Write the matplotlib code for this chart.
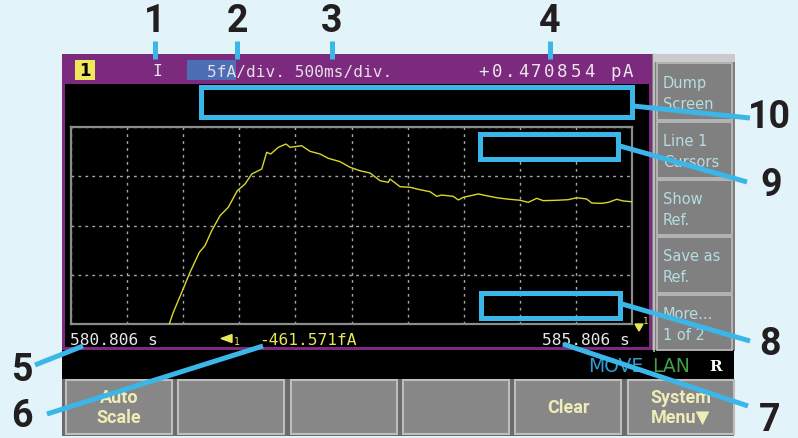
import matplotlib.pyplot as plt
from matplotlib.patches import Rectangle, Polygon
import numpy as np

# trace (time in s, current in fA)
time_s = [581.682, 581.718, 581.793, 581.867, 581.950, 582.000, 582.060, 582.134,
          582.208, 582.288, 582.357, 582.417, 582.506, 582.550, 582.586, 582.654,
          582.722, 582.758, 582.862, 582.936, 583.025, 583.099, 583.204, 583.293,
          583.382, 583.471, 583.560, 583.634, 583.649, 583.738, 583.827, 583.917,
          584.006, 584.065, 584.110, 584.213, 584.258, 584.303, 584.436, 584.511,
          584.600, 584.689, 584.808, 584.882, 584.957, 585.015, 585.135, 585.238,
          585.313, 585.402, 585.447, 585.536, 585.595, 585.670, 585.728, 585.806]
current_fA = [-461.57, -460.38, -458.35, -456.32, -454.29, -453.62, -452.10, -450.58,
              -449.72, -448.04, -447.36, -446.34, -445.84, -444.14, -444.31, -443.63,
              -443.30, -443.63, -443.47, -444.04, -444.31, -444.75, -445.09, -445.66,
              -446.01, -446.24, -447.02, -447.19, -446.85, -447.63, -447.69, -447.94,
              -448.14, -448.61, -448.48, -448.61, -448.98, -448.71, -448.37, -448.55,
              -448.75, -448.88, -449.01, -449.22, -448.81, -449.05, -449.01, -448.95,
              -448.75, -448.88, -449.29, -449.32, -449.22, -448.91, -449.08, -449.16]

t_start = 580.806
t_end = 585.806
i_bottom = -461.571
fa_per_div = 5
s_per_div = 0.5
n_ydiv = 4

reading = '+0.470854 pA'
side_buttons = [('Dump', 'Screen'), ('Line 1', 'Cursors'), ('Show', 'Ref.'),
                ('Save as', 'Ref.'), ('More...', '1 of 2')]
soft_keys = ['Auto\nScale', '', '', '', 'Clear', 'System\nMenu\u25BC']

W, H = 798, 439
BLUE = '#3BB6E8'
PURPLE = '#7B2A7E'
MONO = 'DejaVu Sans Mono'

fig = plt.figure(figsize=(W / 100, H / 100), dpi=100)
fig.patch.set_facecolor('#E2F3FA')

# background "screen" drawn in pixel coordinates
bg = fig.add_axes([0, 0, 1, 1])
bg.set_xlim(0, W)
bg.set_ylim(H, 0)
bg.axis('off')

def box(ax, x0, y0, x1, y1, fc, ec='none', lw=0, z=1, fill=True):
    ax.add_patch(Rectangle((x0, y0), x1 - x0, y1 - y0, facecolor=fc if fill else 'none',
                           edgecolor=ec, linewidth=lw, zorder=z))

# purple frame + black display
box(bg, 62, 55, 652, 351, PURPLE)
box(bg, 65, 85, 649, 348, 'black', z=2)

# header
box(bg, 75, 61, 95, 81, '#EEE85A', z=3)
bg.text(85, 71.5, '1', ha='center', va='center', fontsize=12, fontweight='bold',
        color='black', zorder=4)
bg.text(157, 72, 'I', ha='center', va='center', fontsize=11.5, family=MONO,
        color='#EDE6EE', zorder=4)
box(bg, 187, 61, 236, 81, '#4B6EB4', z=3)
bg.text(207, 72, f'{fa_per_div}fA/div. {int(s_per_div * 1000)}ms/div.', ha='left',
        va='center', fontsize=11.6, family=MONO, color='#E4DEE8', zorder=4)
step = 158 / len(reading)
for k, ch in enumerate(reading):
    bg.text(477 + step * (k + 0.5), 72, ch, ha='center', va='center', fontsize=12.5,
            family=MONO, color='#EDE6EE', zorder=4)

# side panel
box(bg, 652, 55, 735, 352, '#7D7D7D')
box(bg, 653, 55, 735, 63, '#CBCBCB', z=2)
bg.plot([654, 654], [55, 352], color='#C8C8C8', lw=1.2, zorder=3)
side_y = [(64, 121), (123, 179), (181, 236), (238, 294), (296, 351)]
for (l1, l2), (y0, y1) in zip(side_buttons, side_y):
    box(bg, 657, y0, 732, y1, '#808080', ec='#B8B8B8', lw=1.3, z=2)
    ym = (y0 + y1) / 2
    bg.text(663, ym - 9, l1, ha='left', va='center', fontsize=10.5, color='#B6DDE3', zorder=4)
    bg.text(663, ym + 12, l2, ha='left', va='center', fontsize=10.5, color='#B6DDE3', zorder=4)

# status row
box(bg, 62, 351, 734, 380, 'black')
bg.text(588, 367, 'MOVE', ha='left', va='center', fontsize=13.5, color='#2F9DD3', zorder=4)
bg.text(652, 367, 'LAN', ha='left', va='center', fontsize=13.5, color='#3EA142', zorder=4)
bg.text(716, 367, 'R', ha='center', va='center', fontsize=11, family='DejaVu Serif',
        fontweight='bold', color='white', zorder=4)

# soft keys
box(bg, 62, 380, 734, 437, '#6A6A6A')
key_x = [66, 178, 291, 403, 515, 628]
for x0, label in zip(key_x, soft_keys):
    box(bg, x0, 381, x0 + 106, 435, '#878787', ec='#BEBEBE', lw=1.5, z=2)
    if label:
        bg.text(x0 + 53, 408, label, ha='center', va='center', fontsize=13,
                fontweight='bold', family=['Roboto', 'DejaVu Sans'], color='#EEEDB8',
                linespacing=1.15, zorder=4)

# readouts under the grid
bg.text(70, 341, f'{t_start:.3f} s', ha='left', va='center', fontsize=11.7,
        family=MONO, color='#E8E8E8', zorder=4)
bg.text(259, 341, f'{i_bottom:.3f}fA', ha='left', va='center', fontsize=11.7,
        family=MONO, color='#E6E65A', zorder=4)
bg.text(630, 341, f'{t_end:.3f} s', ha='right', va='center', fontsize=11.7,
        family=MONO, color='#E8E8E8', zorder=4)
bg.add_patch(Polygon([[221, 339.5], [232, 335.5], [232, 343.5]], closed=True,
                     color='#E6E65A', zorder=4))
bg.text(237, 342, '1', ha='center', va='center', fontsize=7, family=MONO,
        color='#E6E65A', zorder=4)
bg.add_patch(Polygon([[635, 325], [643, 325], [639, 332]], closed=True,
                     color='#E6E65A', zorder=4))
bg.text(646, 322, '1', ha='center', va='center', fontsize=6.5, family=MONO,
        color='#E6E65A', zorder=4)

# trace window
ax = fig.add_axes([71 / W, 1 - 325 / H, 561 / W, 197 / H])
ax.set_facecolor('black')
ax.plot(time_s, current_fA, color='#D9D82C', lw=1.0, zorder=3)
ax.set_xlim(t_start, t_end)
ax.set_ylim(i_bottom, i_bottom + n_ydiv * fa_per_div)
ax.set_xticks(np.arange(t_start, t_end + 1e-6, s_per_div))
ax.set_yticks(np.arange(i_bottom, i_bottom + n_ydiv * fa_per_div + 1e-6, fa_per_div))
ax.tick_params(length=0, labelbottom=False, labelleft=False)
ax.grid(True, color='#A5A5A5', linestyle=(0, (2, 3)), lw=1.0)
for s in ax.spines.values():
    s.set_color('#8C8C8C')
    s.set_linewidth(1.6)

# callouts on top
top = fig.add_axes([0, 0, 1, 1])
top.set_xlim(0, W)
top.set_ylim(H, 0)
top.patch.set_visible(False)
top.axis('off')

box(top, 201, 88, 632, 118, 'black', ec=BLUE, lw=3.6, z=2)
box(top, 480, 135, 618, 159.5, 'black', ec=BLUE, lw=3.6, z=2)
box(top, 481, 293.5, 619.5, 318.5, 'none', ec=BLUE, lw=3.6, z=2, fill=False)

leaders = [((633, 107), (750, 119)), ((620, 147), (747, 183)), ((622, 305), (750, 342)),
           ((563, 345), (748, 407)), ((83, 347), (35, 366)), ((263, 347), (47, 415))]
for (xa, ya), (xb, yb) in leaders:
    top.plot([xa, xb], [ya, yb], color=BLUE, lw=3.6, solid_capstyle='butt', zorder=3)
for x in [155, 237, 332, 550]:
    top.plot([x, x], [42, 60], color=BLUE, lw=3.6, solid_capstyle='butt', zorder=3)

callouts = [('1', 155, 22), ('2', 237, 22), ('3', 332, 22), ('4', 550, 22),
            ('10', 769, 118), ('9', 771, 186), ('8', 770, 345), ('7', 770, 421),
            ('5', 22, 371), ('6', 22, 417)]
for lab, x, y in callouts:
    top.text(x, y, lab, ha='center', va='center', fontsize=27, fontweight='bold',
             family='Roboto', color='#231F20', zorder=5)

fig.savefig('out.png', dpi=100, facecolor=fig.get_facecolor())
